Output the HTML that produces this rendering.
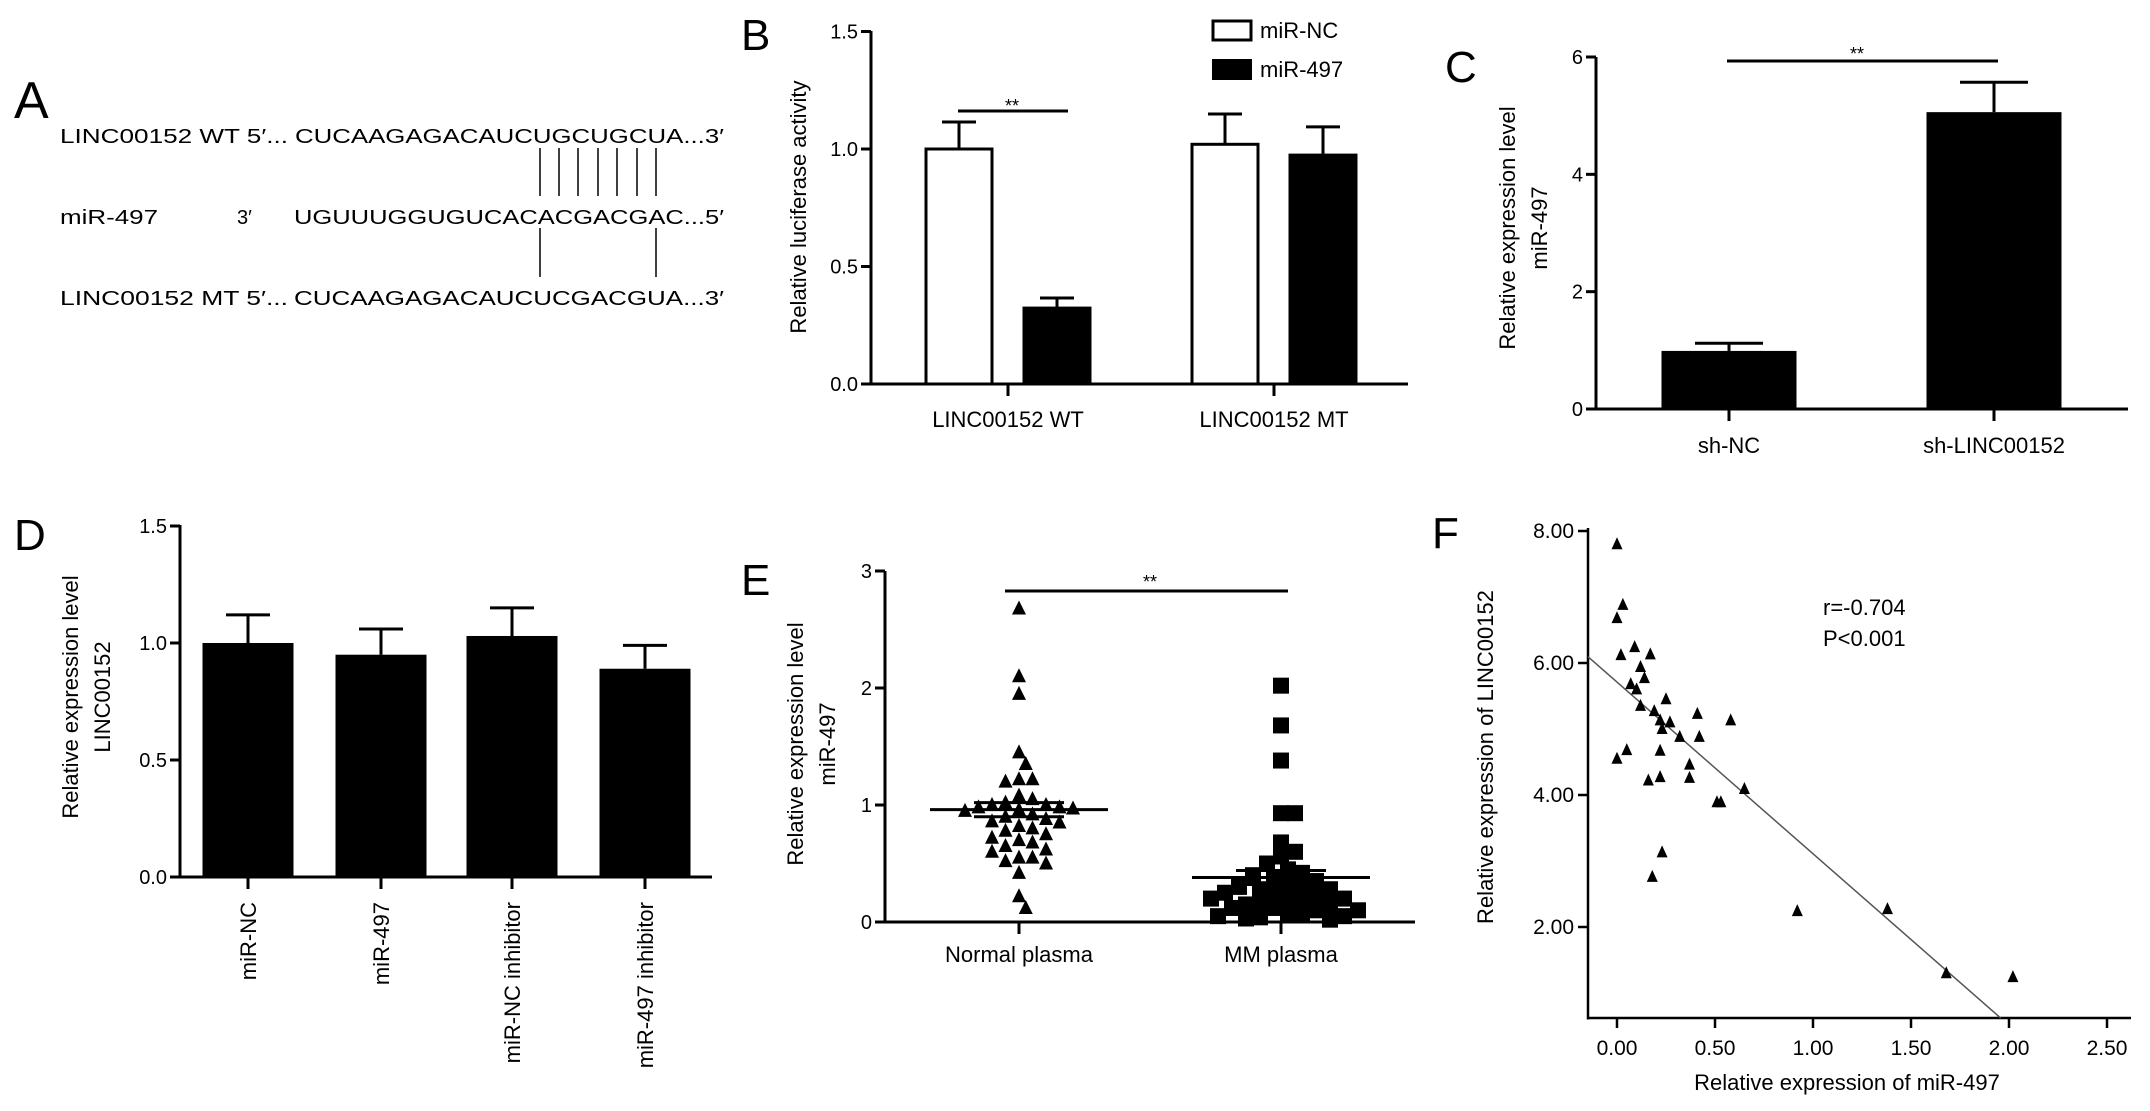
<!DOCTYPE html>
<html><head><meta charset="utf-8"><style>
html,body{margin:0;padding:0;background:#fff;}
svg{display:block;}
text{font-family:"Liberation Sans Narrow","Liberation Sans",sans-serif;fill:#000;}
.ax{font-family:"Liberation Sans",sans-serif;}
</style></head><body>
<svg id="fig" width="2150" height="1111" viewBox="0 0 2150 1111" xmlns="http://www.w3.org/2000/svg"></svg>
<script>
// ---------- DATA ----------
const bCategories = ["LINC00152 WT","LINC00152 MT"];
const bSeriesNC = [1.0, 1.02];
const bSeriesNCerr = [0.115, 0.129];
const bSeries497 = [0.323, 0.974];
const bSeries497err = [0.043, 0.12];
const bTicks = [0, 0.5, 1.0, 1.5];
const bTickLabels = ["0.0","0.5","1.0","1.5"];

const cCategories = ["sh-NC","sh-LINC00152"];
const cValues = [0.99, 5.06];
const cErr = [0.13, 0.51];
const cTicks = [0, 2, 4, 6];
const cTickLabels = ["0","2","4","6"];

const dCategories = ["miR-NC","miR-497","miR-NC inhibitor","miR-497 inhibitor"];
const dValues = [1.0, 0.95, 1.03, 0.89];
const dErr = [0.12, 0.11, 0.12, 0.10];
const dTicks = [0, 0.5, 1.0, 1.5];
const dTickLabels = ["0.0","0.5","1.0","1.5"];

const eCategories = ["Normal plasma","MM plasma"];
const eNormal = [2.68,2.1,1.95,1.45,1.35,1.22,1.22,1.2,1.08,1.05,1.02,1.0,1.0,0.98,0.98,0.97,0.96,0.95,0.92,0.9,0.88,0.86,0.85,0.82,0.8,0.78,0.75,0.72,0.7,0.68,0.65,0.62,0.6,0.55,0.55,0.52,0.5,0.42,0.22,0.12];
const eMM = [2.02,1.68,1.38,0.93,0.93,0.68,0.6,0.56,0.5,0.45,0.42,0.4,0.38,0.35,0.32,0.3,0.3,0.28,0.25,0.22,0.2,0.2,0.18,0.16,0.15,0.12,0.1,0.1,0.08,0.06,0.05,0.05,0.04,0.03,0.02,0.12,0.2,0.28,0.25,0.15];
const eMeans = [0.96, 0.38];
const eSEM = [0.06, 0.06];
const eTicks = [0, 1, 2, 3];
const eTickLabels = ["0","1","2","3"];

const fX = [0.0,0.03,0.0,0.02,0.09,0.17,0.12,0.14,0.07,0.10,0.12,0.25,0.19,0.22,0.27,0.23,0.32,0.41,0.42,0.58,0.0,0.05,0.22,0.37,0.16,0.22,0.37,0.65,0.51,0.53,0.23,0.18,0.92,1.38,1.68,2.02];
const fY = [7.8,6.88,6.68,6.12,6.24,6.13,5.94,5.77,5.68,5.6,5.35,5.45,5.27,5.13,5.1,5.0,4.88,5.23,4.88,5.13,4.55,4.68,4.67,4.46,4.22,4.27,4.26,4.09,3.89,3.89,3.13,2.76,2.24,2.27,1.3,1.24];
const fFit = [5.71, -2.6]; // intercept, slope
const fXTicks = [0,0.5,1.0,1.5,2.0,2.5];
const fXTickLabels = ["0.00","0.50","1.00","1.50","2.00","2.50"];
const fYTicks = [2,4,6,8];
const fYTickLabels = ["2.00","4.00","6.00","8.00"];

// ---------- HELPERS ----------
const NS="http://www.w3.org/2000/svg";
const svg=document.getElementById('fig');
function mk(tag,attrs,name,parent){
  const el=document.createElementNS(NS,tag);
  for(const k in attrs) el.setAttribute(k,attrs[k]);
  
  
  (parent||svg).appendChild(el);
  return el;
}
function line(x1,y1,x2,y2,w,name,col){return mk('line',{x1,y1,x2,y2,stroke:col||'#000','stroke-width':w||3},name);}
function txt(x,y,s,size,anchor,name,opts){
  opts=opts||{};
  const a={x,y,'font-size':size,'text-anchor':anchor||'start'};
  if(opts.rot!==undefined) a.transform='rotate('+opts.rot+' '+x+' '+y+')';
  if(opts.cls) a['class']=opts.cls;
  if(opts.len){a.textLength=opts.len;a.lengthAdjust='spacingAndGlyphs';}
  if(opts.style) a['font-style']=opts.style;
  const t=mk('text',a,name);t.textContent=s;return t;
}
function lin(d0,d1,r0,r1){return v=>r0+(v-d0)*(r1-r0)/(d1-d0);}

// ---------- PANEL A ----------
txt(14,118,"A",52,"start","panel-label-a");
txt(60,143,"LINC00152 WT 5′...",20,"start","wt-label",{len:228});
txt(295,143,"CUCAAGAGACAUCUGCUGCUA...3′",20,"start","wt-sequence",{len:429});
txt(60,224,"miR-497",20,"start","mir-label",{len:98});
txt(237,224,"3′",20,"start","mir-3prime");
txt(294,224,"UGUUUGGUGUCACACGACGAC...5′",20,"start","mir-sequence",{len:430});
txt(60,305,"LINC00152 MT 5′...",20,"start","mt-label",{len:228});
txt(294,305,"CUCAAGAGACAUCUCGACGUA...3′",20,"start","mt-sequence",{len:430});
[540,559,578,598,617,637,656].forEach(x=>line(x,148,x,196,1.5,"pairing-line-upper"));
[540,656].forEach(x=>line(x,228,x,277,1.5,"pairing-line-lower"));

function yAxis(x,yTop,yBot,ticks,labels,scale,name,fs){
  line(x,yTop,x,yBot+1.5,3,name+"-line");
  ticks.forEach((t,i)=>{const y=scale(t);line(x-10,y,x,y,3,name+"-tick");
    txt(x-13,y+7,labels[i],fs||20,"end",name+"-tick-label");});
}

// ---------- PANEL B ----------
txt(741,50,"B",44,"start","panel-label-b");
const bY=lin(0,1,384,149);
yAxis(871,31,384,bTicks,bTickLabels,bY,"b-y-axis");
line(871,384,1408,384,3,"b-x-axis");
txt(806,207,"Relative luciferase activity",22,"middle","b-y-axis-title",{rot:-90,cls:'ax'});
const bCenters=[1008,1274], bw=66, bgap=98;
bCategories.forEach((c,i)=>{
  const cx=bCenters[i];
  line(cx,384,cx,396,3,"b-x-tick");
  txt(cx,427,c,22,"middle","b-x-label");
  [[bSeriesNC,bSeriesNCerr,'#fff','bar-mir-nc'],[bSeries497,bSeries497err,'#000','bar-mir-497']].forEach((s,j)=>{
    const x0=cx-bgap/2-bw/2+j*bgap, v=s[0][i], e=s[1][i];
    line(x0+bw/2,bY(v),x0+bw/2,bY(v+e),3,"b-error-bar");
    line(x0+bw/2-17,bY(v+e),x0+bw/2+17,bY(v+e),3,"b-error-cap");
    mk('rect',{x:x0,y:bY(v),width:bw,height:384-bY(v),fill:s[2],stroke:'#000','stroke-width':3},s[3]);
  });
});
line(958,111,1068,111,3,"b-significance-line");
txt(1012,112,"**",18,"middle","b-significance-mark");
mk('rect',{x:1213,y:21,width:38,height:19,fill:'#fff',stroke:'#000','stroke-width':3},"legend-mir-nc-swatch");
txt(1260,38,"miR-NC",22,"start","legend-mir-nc");
mk('rect',{x:1212,y:59,width:40,height:21,fill:'#000'},"legend-mir-497-swatch");
txt(1260,77,"miR-497",22,"start","legend-mir-497");

// ---------- PANEL C ----------
txt(1445,82,"C",44,"start","panel-label-c");
const cY=lin(0,6,409,57);
yAxis(1596,57,409,cTicks,cTickLabels,cY,"c-y-axis");
line(1596,409,2128,409,3,"c-x-axis");
txt(1515,228,"Relative expression level",22,"middle","c-y-axis-title",{rot:-90,cls:'ax'});
txt(1547,228,"miR-497",22,"middle","c-y-axis-title-2",{rot:-90,cls:'ax'});
const cCenters=[1729,1994], cw=135;
cCategories.forEach((c,i)=>{
  const cx=cCenters[i],v=cValues[i],e=cErr[i];
  line(cx,409,cx,421,3,"c-x-tick");
  txt(cx,453,c,22,"middle","c-x-label");
  line(cx,cY(v),cx,cY(v+e),3,"c-error-bar");
  line(cx-34,cY(v+e),cx+34,cY(v+e),3,"c-error-cap");
  mk('rect',{x:cx-cw/2,y:cY(v),width:cw,height:409-cY(v),fill:'#000'},"c-bar");
});
line(1727,61,1998,61,3,"c-significance-line");
txt(1857,60,"**",18,"middle","c-significance-mark");

// ---------- PANEL D ----------
txt(14,550,"D",44,"start","panel-label-d");
const dY=lin(0,1,877,643);
yAxis(180,525,877,dTicks,dTickLabels,dY,"d-y-axis");
line(180,877,712,877,3,"d-x-axis");
txt(78,697,"Relative expression level",22,"middle","d-y-axis-title",{rot:-90,cls:'ax'});
txt(110,697,"LINC00152",22,"middle","d-y-axis-title-2",{rot:-90,cls:'ax'});
const dCenters=[248,381,512,645], dw=91;
dCategories.forEach((c,i)=>{
  const cx=dCenters[i],v=dValues[i],e=dErr[i];
  line(cx,877,cx,889,3,"d-x-tick");
  txt(cx+8,902,c,22,"end","d-x-label",{rot:-90,cls:'ax'});
  line(cx,dY(v),cx,dY(v+e),3,"d-error-bar");
  line(cx-22,dY(v+e),cx+22,dY(v+e),3,"d-error-cap");
  mk('rect',{x:cx-dw/2,y:dY(v),width:dw,height:877-dY(v),fill:'#000'},"d-bar");
});

// ---------- PANEL E ----------
txt(741,595,"E",44,"start","panel-label-e");
const eY=lin(0,1,922,805);
yAxis(885,571,922,eTicks,eTickLabels,eY,"e-y-axis");
line(885,922,1415,922,3,"e-x-axis");
txt(803,744,"Relative expression level",22,"middle","e-y-axis-title",{rot:-90,cls:'ax'});
txt(835,744,"miR-497",22,"middle","e-y-axis-title-2",{rot:-90,cls:'ax'});
const eCenters=[1019,1281];
function swarm(vals,cx,D){
  const placed=[];
  vals.map(v=>({v,y:eY(v)})).sort((a,b)=>a.y-b.y).forEach(p=>{
    for(let k=0;k<60;k++){
      const off=(k%2?1:-1)*Math.ceil(k/2)*D*0.5;
      const x=cx+off;
      if(placed.every(q=>Math.hypot(q.x-x,q.y-p.y)>=D)){placed.push({x,y:p.y});break;}
    }
  });
  return placed;
}
eCategories.forEach((c,i)=>{
  const cx=eCenters[i];
  line(cx,922,cx,934,3,"e-x-tick");
  txt(cx,962,c,22,"middle","e-x-label");
  const pts=swarm(i===0?eNormal:eMM,cx,i===0?13.5:14);
  pts.forEach(p=>{
    if(i===0) mk('polygon',{points:(p.x-7)+','+(p.y+6)+' '+(p.x+7)+','+(p.y+6)+' '+p.x+','+(p.y-8),fill:'#000'},"e-point-normal");
    else mk('rect',{x:p.x-8,y:p.y-8,width:16,height:16,fill:'#000'},"e-point-mm");
  });
  line(cx-89,eY(eMeans[i]),cx+89,eY(eMeans[i]),3,"e-mean-line");
  line(cx-45,eY(eMeans[i]+eSEM[i]),cx+45,eY(eMeans[i]+eSEM[i]),3,"e-sem-upper");
  line(cx-45,eY(eMeans[i]-eSEM[i]),cx+45,eY(eMeans[i]-eSEM[i]),3,"e-sem-lower");
});
line(1005,591,1288,591,3,"e-significance-line");
txt(1150,588,"**",18,"middle","e-significance-mark");

// ---------- PANEL F ----------
txt(1432,548,"F",44,"start","panel-label-f");
const fXs=lin(0,1,1617,1813), fYs=lin(0,2,1059,927);
line(1588,528,1588,1019.5,2.5,"f-y-axis-line");
line(1588,1018,2131,1018,2.5,"f-x-axis-line");
fYTicks.forEach((t,i)=>{const y=fYs(t);line(1578,y,1588,y,2.5,"f-y-tick");txt(1574,y+7,fYTickLabels[i],21,"end","f-y-tick-label");});
fXTicks.forEach((t,i)=>{const x=fXs(t);line(x,1018,x,1028,2.5,"f-x-tick");txt(x,1055,fXTickLabels[i],21,"middle","f-x-tick-label");});
txt(1493,757,"Relative expression of LINC00152",22,"middle","f-y-axis-title",{rot:-90,cls:'ax'});
txt(1847,1090,"Relative expression of miR-497",22,"middle","f-x-axis-title");
{
  const x0=-0.148, x1=(0.62-fFit[0])/fFit[1];
  line(fXs(x0),fYs(fFit[0]+fFit[1]*x0),fXs(x1),fYs(fFit[0]+fFit[1]*x1),1.5,"f-regression-line","#555");
}
fX.forEach((xv,i)=>{
  const x=fXs(xv),y=fYs(fY[i]);
  mk('polygon',{points:(x-5.5)+','+(y+5)+' '+(x+5.5)+','+(y+5)+' '+x+','+(y-7),fill:'#000'},"f-point");
});
txt(1823,615,"r=-0.704",22,"start","f-correlation-r");
txt(1823,646,"P<0.001",22,"start","f-p-value");
</script>
</body></html>
